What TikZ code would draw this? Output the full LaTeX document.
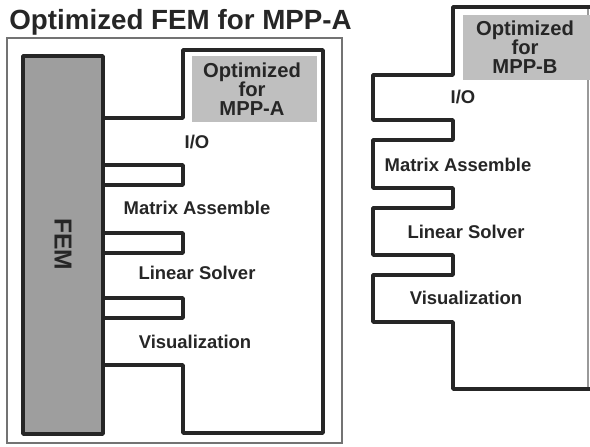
\documentclass[tikz,border=0pt]{standalone}
\usepackage{fontspec}
\setmainfont{Liberation Sans}
\begin{document}
\begin{tikzpicture}[x=0.02cm, y=-0.02cm,
    outline/.style={line width=2pt, line join=round, draw=black!85},
    lbl/.style={font=\fontsize{10.5}{12}\bfseries, text=black!85, inner sep=0pt},
    tag/.style={align=center, font=\fontsize{11.5}{10.8}\bfseries, text=black!85, inner sep=0pt}]
    \useasboundingbox (0,0) rectangle (590,446);
    % left panel
    \node[font=\fontsize{15.8}{18}\bfseries, text=black!85, anchor=west, inner sep=0pt] (title) at (9,22) {Optimized FEM for MPP-A};
    \draw[black!55, line width=0.8pt] (7,38) rectangle (342,443);
    \draw[outline, fill=black!38] (23,56) rectangle (103,434);
    \node[rotate=-90, font=\fontsize{14}{14}\bfseries, text=black!85] (fem) at (63,244) {FEM};
    \draw[outline] (103,118) -- (183,118) -- (183,50) -- (323,50) -- (323,433) -- (183,433) -- (183,365) -- (103,365);
    \foreach \y in {165,233,298}
        \draw[outline] (103,\y) -- (183,\y) -- (183,\y+20) -- (103,\y+20);
    \fill[black!25] (192,56) rectangle (317,122);
    \node[tag] (optA) at (252,89) {Optimized\\for\\MPP-A};
    \node[lbl] (ioA) at (197,142) {I/O};
    \node[lbl] (matA) at (197,208) {Matrix Assemble};
    \node[lbl] (linA) at (197,273) {Linear Solver};
    \node[lbl] (visA) at (195,342) {Visualization};
    % right panel
    \draw[black!40, line width=0.6pt] (588,7) -- (588,389);
    \draw[outline] (590,7) -- (453,7) -- (453,75) -- (373,75) -- (373,120) -- (453,120)
        -- (453,140) -- (373,140) -- (373,188) -- (453,188)
        -- (453,208) -- (373,208) -- (373,255) -- (453,255)
        -- (453,275) -- (373,275) -- (373,322) -- (453,322) -- (453,389) -- (590,389);
    \fill[black!25] (463,15) rectangle (590,80);
    \node[tag] (optB) at (525,47) {Optimized\\for\\MPP-B};
    \node[lbl] (ioB) at (463,97) {I/O};
    \node[lbl] (matB) at (458,165) {Matrix Assemble};
    \node[lbl] (linB) at (466,232) {Linear Solver};
    \node[lbl] (visB) at (466,298) {Visualization};
\end{tikzpicture}
\end{document}
